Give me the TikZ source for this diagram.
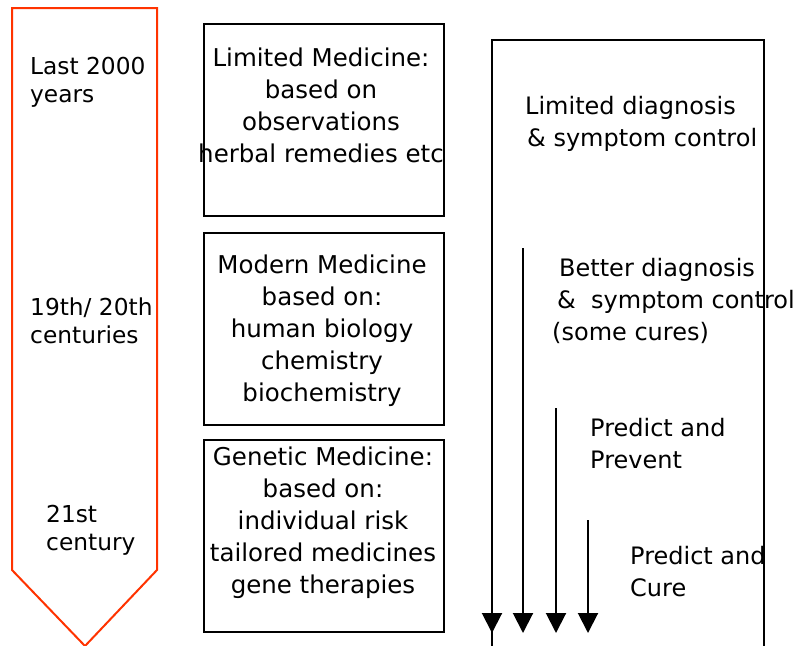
\documentclass[tikz,border=0pt]{standalone}
\usepackage{fontspec}
\setmainfont{DejaVu Sans}
\usetikzlibrary{arrows.meta}
\definecolor{eraRed}{RGB}{255,51,0}
\begin{document}
\begin{tikzpicture}[x=1pt,y=-1pt,
  erabox/.style={draw=black,line width=1.8pt,minimum width=240pt,minimum height=192pt,inner sep=0pt},
  boxtext/.style={align=center,inner sep=0pt,font=\fontsize{24.5}{32}\selectfont},
  eratext/.style={align=left,anchor=west,inner sep=0pt,font=\fontsize{23.3}{28}\selectfont},
  outtext/.style={align=left,anchor=west,inner sep=0pt,font=\fontsize{24}{32}\selectfont},
  flow/.style={line width=2pt,-{Triangle[width=20pt,length=20pt]}}]
\useasboundingbox (0,0) rectangle (800,645);

% time line on the left
\draw[eraRed,line width=2pt,line join=miter] (12,8) -- (157,8) -- (157,570) -- (85,646) -- (12,570) -- cycle;
\node[eratext] (t1) at (30,82.5) {Last 2000\\years};
\node[eratext] (t2) at (30,320.5) {19th/ 20th\\centuries};
\node[eratext] (t3) at (46,530.5) {21st\\century};

% kinds of medicine
\node[erabox] (b1) at (324,120) {};
\node[erabox] (b2) at (324,329) {};
\node[erabox] (b3) at (324,536) {};
\node[boxtext] (m1) at (321,105.5) {Limited Medicine:\\based on\\observations\\herbal remedies etc};
\node[boxtext] (m2) at (322,330.5) {Modern Medicine\\based on:\\human biology\\chemistry\\biochemistry};
\node[boxtext] (m3) at (323,522.5) {Genetic Medicine:\\based on:\\individual risk\\tailored medicines\\gene therapies};

% outcomes
\draw[line width=1.8pt] (492,700) -- (492,40) -- (764,40) -- (764,700);
\coordinate (s1) at (492,72);   \coordinate (e1) at (492,633);
\coordinate (s2) at (523,248);  \coordinate (e2) at (523,633);
\coordinate (s3) at (556,408);  \coordinate (e3) at (556,633);
\coordinate (s4) at (588,520);  \coordinate (e4) at (588,633);
\draw[flow] (s1) -- (e1);
\draw[flow] (s2) -- (e2);
\draw[flow] (s3) -- (e3);
\draw[flow] (s4) -- (e4);
\node[outtext] (o1) at (525,123.5) {Limited diagnosis\\\hspace*{2pt}\& symptom control};
\node[outtext] (o2) at (552,300.5) {\hspace*{7pt}Better diagnosis\\\hspace*{5pt}\&\ \ symptom control\\(some cures)};
\node[outtext] (o3) at (590,443.5) {Predict and\\Prevent};
\node[outtext] (o4) at (630,571.5) {Predict and\\Cure};
\end{tikzpicture}
\end{document}
